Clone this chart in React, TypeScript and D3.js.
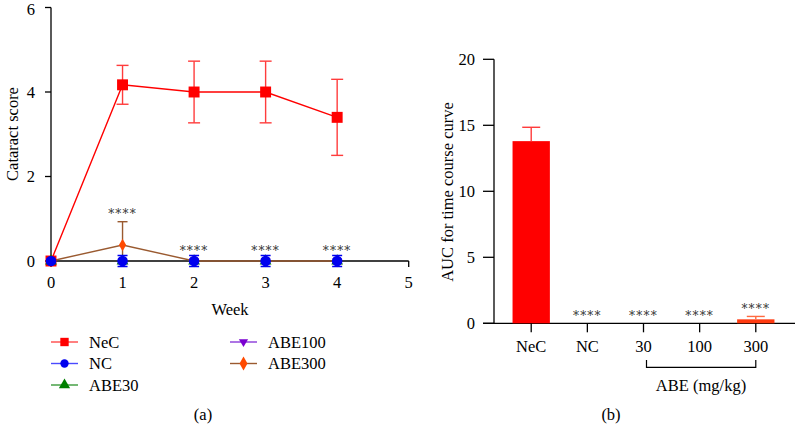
import React from "react";
import * as d3 from "d3";

const weeks = [0, 1, 2, 3, 4];
const necMean = [0, 4.17, 4.0, 4.0, 3.4];
const necSd = [0, 0.46, 0.73, 0.73, 0.9];
const ncMean = [0, 0, 0, 0, 0];
const abe30Mean = [0, 0, 0, 0, 0];
const abe100Mean = [0, 0, 0, 0, 0];
const abe300Mean = [0, 0.38, 0, 0, 0];
const abe300Sd = [0, 0.55, 0, 0, 0];
const sigWeeks = [1, 2, 3, 4];
const yTicksA = [0, 2, 4, 6];
const xTicksA = [0, 1, 2, 3, 4, 5];

const barCats = ["NeC", "NC", "30", "100", "300"];
const barMean = [13.8, 0, 0, 0, 0.3];
const barSd = [1.05, 0, 0, 0, 0.22];
const barSig = [false, true, true, true, true];
const yTicksB = [0, 5, 10, 15, 20];

const legendItems = [
  { name: "NeC", color: "#ff0000", line: "#ff4a4a", sym: d3.symbolSquare },
  { name: "NC", color: "#0000ee", line: "#4a4aff", sym: d3.symbolCircle },
  { name: "ABE30", color: "#008000", line: "#3a9a3a", sym: d3.symbolTriangle },
  { name: "ABE100", color: "#7a00d0", line: "#8a3ad8", sym: "down" },
  { name: "ABE300", color: "#ff4a00", line: "#9a5a30", sym: d3.symbolDiamond },
];

const FONT = "'Liberation Serif', 'DejaVu Serif', serif";
const FS = 16.5;

function sym(type: any, size: number) {
  if (type === "down") {
    const s = Math.sqrt(size) * 0.62;
    return `M${-s},${-s * 0.6}L${s},${-s * 0.6}L0,${s * 1.1}Z`;
  }
  return d3.symbol().type(type).size(size)() as string;
}

function Stars({ x, y }: { x: number; y: number }) {
  return (
    <text x={x} y={y} dy="0.35em" textAnchor="middle" fontSize={12} letterSpacing={1.2} fill="#333" fontFamily="'DejaVu Serif', serif">
      ****
    </text>
  );
}

export default function App() {
  const xA = d3.scaleLinear().domain([0, 5]).range([51, 408.7]);
  const yA = d3.scaleLinear().domain([0, 6]).range([261, 7.5]);

  const xB = d3.scaleBand().domain(barCats).range([503, 784]).paddingInner(0.335).paddingOuter(0.17);
  const yB = d3.scaleLinear().domain([0, 20]).range([323.3, 59.3]);
  const bw = xB.bandwidth();
  const cx = (c: string) => (xB(c) as number) + bw / 2;

  const line = d3.line<number>().x((_, i) => xA(weeks[i])).y((d) => yA(d));

  return (
    <svg width={796} height={424} style={{ position: "absolute", left: 0, top: 0, background: "#fff" }} fontFamily={FONT}>
      {/* Panel A axes */}
      <line x1={xA(0)} x2={xA(0)} y1={yA(6)} y2={yA(0)} stroke="#000" strokeWidth={1.3} />
      <line x1={xA(0)} x2={xA(5)} y1={yA(0)} y2={yA(0)} stroke="#000" strokeWidth={1.3} />
      {yTicksA.map((t) => (
        <g key={"ya" + t}>
          <line x1={45} x2={xA(0)} y1={yA(t)} y2={yA(t)} stroke="#000" strokeWidth={1.3} />
          <text x={35} y={Math.max(yA(t), 9)} dy="0.35em" textAnchor="end" fontSize={FS}>{t}</text>
        </g>
      ))}
      {xTicksA.map((t) => (
        <g key={"xa" + t}>
          <line x1={xA(t)} x2={xA(t)} y1={yA(0)} y2={yA(0) + 6} stroke="#000" strokeWidth={1.3} />
          <text x={xA(t)} y={282} dy="0.35em" textAnchor="middle" fontSize={FS}>{t}</text>
        </g>
      ))}
      <text x={230} y={309} dy="0.35em" textAnchor="middle" fontSize={FS}>Week</text>
      <text transform={`translate(12,134) rotate(-90)`} textAnchor="middle" dy="0.35em" fontSize={FS}>Cataract score</text>

      {/* ABE300 series */}
      <path d={line(abe300Mean) as string} fill="none" stroke="#9a5a30" strokeWidth={1.4} />
      {abe300Mean.map((m, i) =>
        abe300Sd[i] > 0 ? (
          <g key={"e3" + i} stroke="#9a5a30" strokeWidth={1.4}>
            <line x1={xA(weeks[i])} x2={xA(weeks[i])} y1={yA(0)} y2={yA(m + abe300Sd[i])} />
            <line x1={xA(weeks[i]) - 5} x2={xA(weeks[i]) + 5} y1={yA(m + abe300Sd[i])} y2={yA(m + abe300Sd[i])} />
          </g>
        ) : null
      )}
      {abe300Mean.map((m, i) => (
        <path key={"d3" + i} d={sym(d3.symbolDiamond, 45)} transform={`translate(${xA(weeks[i])},${yA(m)})`} fill="#ff4a00" />
      ))}

      {/* NeC series */}
      <path d={line(necMean) as string} fill="none" stroke="#ff0000" strokeWidth={1.4} />
      {necMean.map((m, i) =>
        necSd[i] > 0 ? (
          <g key={"en" + i} stroke="#ff3c3c" strokeWidth={1.4}>
            <line x1={xA(weeks[i])} x2={xA(weeks[i])} y1={yA(m - necSd[i])} y2={yA(m + necSd[i])} />
            <line x1={xA(weeks[i]) - 6} x2={xA(weeks[i]) + 6} y1={yA(m + necSd[i])} y2={yA(m + necSd[i])} />
            <line x1={xA(weeks[i]) - 6} x2={xA(weeks[i]) + 6} y1={yA(m - necSd[i])} y2={yA(m - necSd[i])} />
          </g>
        ) : null
      )}
      {necMean.map((m, i) => (
        <path key={"sq" + i} d={sym(d3.symbolSquare, 120)} transform={`translate(${xA(weeks[i])},${yA(m)})`} fill="#ff0000" />
      ))}

      {/* ABE30 / ABE100 hidden underneath, NC on top */}
      {abe30Mean.map((m, i) => (
        <path key={"t3" + i} d={sym(d3.symbolTriangle, 60)} transform={`translate(${xA(weeks[i])},${yA(m)})`} fill="#008000" />
      ))}
      {abe100Mean.map((m, i) => (
        <path key={"t1" + i} d={sym("down", 60)} transform={`translate(${xA(weeks[i])},${yA(m)})`} fill="#7a00d0" />
      ))}
      {ncMean.map((m, i) => (
        <g key={"nc" + i}>
          {i > 0 && (
            <g stroke="#0000ee" strokeWidth={1.5}>
              <line x1={xA(weeks[i]) - 5} x2={xA(weeks[i]) + 5} y1={yA(m) - 5.5} y2={yA(m) - 5.5} />
              <line x1={xA(weeks[i]) - 5} x2={xA(weeks[i]) + 5} y1={yA(m) + 5.5} y2={yA(m) + 5.5} />
            </g>
          )}
          <circle cx={xA(weeks[i])} cy={yA(m)} r={5.3} fill="#0000ee" />
        </g>
      ))}
      {sigWeeks.map((w) => (
        <Stars key={"sa" + w} x={xA(w)} y={w === 1 ? yA(abe300Mean[1] + abe300Sd[1]) - 8 : yA(0) - 10} />
      ))}

      {/* Legend */}
      {legendItems.map((it, i) => {
        const col = i < 3 ? 0 : 1;
        const row = i < 3 ? i : i - 3;
        const lx = col === 0 ? 51 : 230;
        const ly = 342 + row * 21.5;
        return (
          <g key={it.name}>
            <line x1={lx} x2={lx + 27} y1={ly} y2={ly} stroke={it.line} strokeWidth={1.4} />
            <path d={sym(it.sym, it.sym === d3.symbolSquare ? 70 : 55)} transform={`translate(${lx + 13.5},${ly})`} fill={it.color} />
            <text x={lx + 38} y={ly} dy="0.35em" fontSize={FS}>{it.name}</text>
          </g>
        );
      })}
      <text x={203} y={414} dy="0.35em" textAnchor="middle" fontSize={FS}>(a)</text>

      {/* Panel B */}
      <line x1={494} x2={494} y1={yB(20)} y2={yB(0)} stroke="#000" strokeWidth={1.3} />
      <line x1={483} x2={795} y1={yB(0)} y2={yB(0)} stroke="#000" strokeWidth={1.3} />
      {yTicksB.map((t) => (
        <g key={"yb" + t}>
          <line x1={483} x2={494} y1={yB(t)} y2={yB(t)} stroke="#000" strokeWidth={1.3} />
          <text x={475} y={yB(t)} dy="0.35em" textAnchor="end" fontSize={FS}>{t}</text>
        </g>
      ))}
      <text transform={`translate(447,192) rotate(-90)`} textAnchor="middle" dy="0.35em" fontSize={FS}>AUC for time course curve</text>
      {barCats.map((c, i) => (
        <g key={"b" + c}>
          {barMean[i] > 0 && (
            <rect x={xB(c)} y={yB(barMean[i])} width={bw} height={yB(0) - yB(barMean[i])} fill={i === 0 ? "#ff0000" : "#ff3a10"} />
          )}
          {barSd[i] > 0 && (
            <g stroke={i === 0 ? "#ff3c3c" : "#ff6a40"} strokeWidth={1.4}>
              <line x1={cx(c)} x2={cx(c)} y1={yB(barMean[i])} y2={yB(barMean[i] + barSd[i])} />
              <line x1={cx(c) - 9} x2={cx(c) + 9} y1={yB(barMean[i] + barSd[i])} y2={yB(barMean[i] + barSd[i])} />
            </g>
          )}
          {barSig[i] && <Stars x={cx(c)} y={yB(barMean[i] + barSd[i]) - 8} />}
          <line x1={cx(c)} x2={cx(c)} y1={yB(0)} y2={yB(0) + 9} stroke="#000" strokeWidth={1.3} />
          <text x={cx(c)} y={346.7} dy="0.35em" textAnchor="middle" fontSize={FS}>{c}</text>
        </g>
      ))}
      <path
        d={`M${cx("30") + 3},360 V367.3 H${cx("300")} V360`}
        fill="none"
        stroke="#000"
        strokeWidth={1.2}
      />
      <text x={701} y={385} dy="0.35em" textAnchor="middle" fontSize={FS}>ABE (mg/kg)</text>
      <text x={611} y={414} dy="0.35em" textAnchor="middle" fontSize={FS}>(b)</text>
    </svg>
  );
}
